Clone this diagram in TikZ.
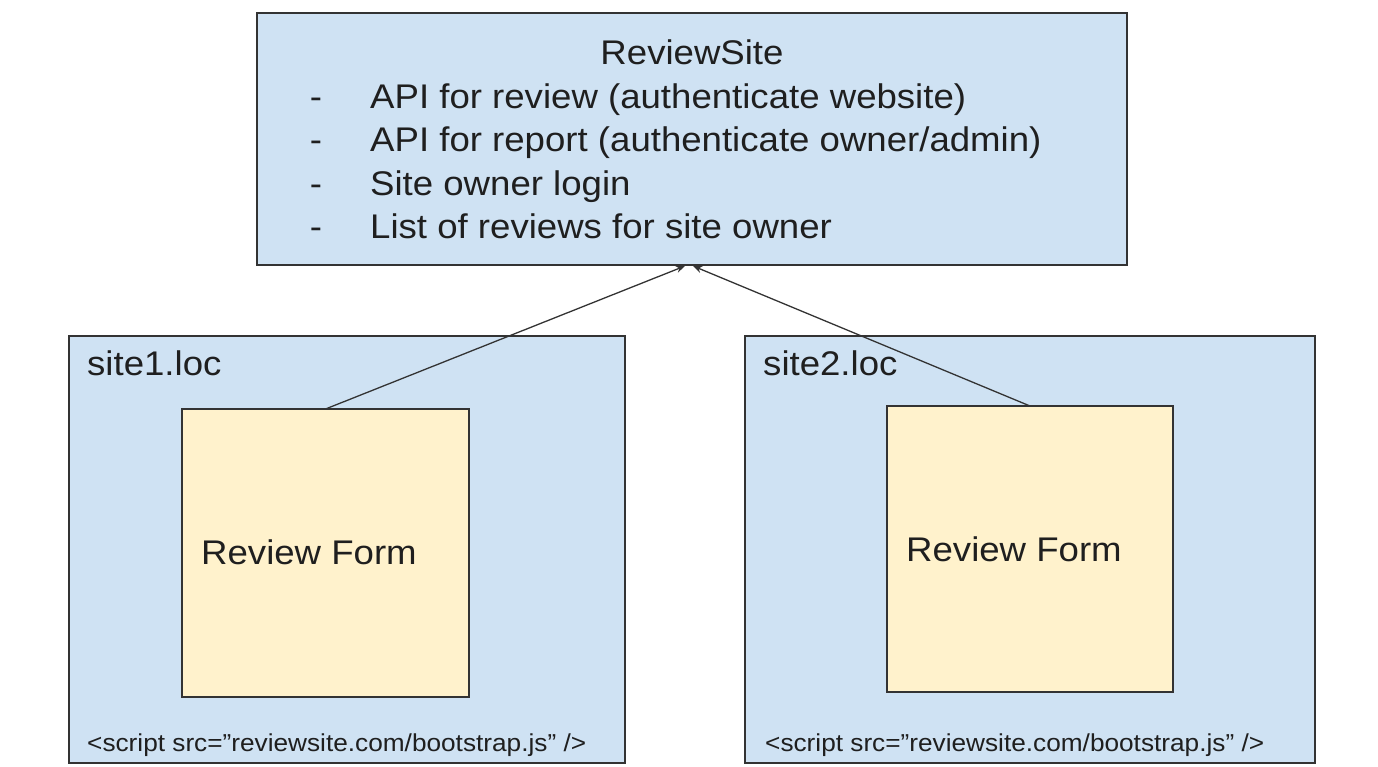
\documentclass[tikz,border=0pt]{standalone}
\usepackage{fontspec}
\setmainfont{Liberation Sans}[FakeStretch=1.07]
\usetikzlibrary{arrows.meta}
\definecolor{boxblue}{HTML}{CFE2F3}
\definecolor{boxyellow}{HTML}{FFF2CC}
\definecolor{edge}{HTML}{333333}
\begin{document}
\begin{tikzpicture}[x=1pt,y=-1pt,
  bluebox/.style={draw=edge,line width=1.4pt,fill=boxblue,inner sep=0pt,outer sep=0pt},
  formbox/.style={draw=edge,line width=1.4pt,fill=boxyellow,inner sep=0pt,outer sep=0pt},
  bigtxt/.style={inner sep=0pt,font=\fontsize{34.2}{40}\selectfont,text=black!88},
  smalltxt/.style={inner sep=0pt,font=\fontsize{24.5}{29}\selectfont,text=black!88},
  link/.style={draw=edge,line width=1.3pt,-{Stealth[length=9pt,width=7pt]}}]
\useasboundingbox (0,0) rectangle (1378,766);
\node[bluebox,minimum width=870pt,minimum height=252pt] (review) at (692,139) {};
\node[bluebox,minimum width=556pt,minimum height=427pt] (site1) at (347,549.5) {};
\node[bluebox,minimum width=570pt,minimum height=427pt] (site2) at (1030,549.5) {};
\node[formbox,minimum width=287pt,minimum height=288pt] (form1) at (325.5,553) {};
\node[formbox,minimum width=286pt,minimum height=286pt] (form2) at (1030,549) {};
% texts
\node[bigtxt,anchor=base] (title) at (692,64.3) {ReviewSite};
\node[bigtxt,anchor=base] (d1) at (316,108.3) {-};
\node[bigtxt,anchor=base] (d2) at (316,151.7) {-};
\node[bigtxt,anchor=base] (d3) at (316,195) {-};
\node[bigtxt,anchor=base] (d4) at (316,238.3) {-};
\node[bigtxt,anchor=base west] (l1) at (370,108.3) {API for review (authenticate website)};
\node[bigtxt,anchor=base west] (l2) at (370,151.7) {API for report (authenticate owner/admin)};
\node[bigtxt,anchor=base west] (l3) at (370,195) {Site owner login};
\node[bigtxt,anchor=base west] (l4) at (370,238.3) {List of reviews for site owner};
\node[bigtxt,anchor=base west] (s1) at (87,375) {site1.loc};
\node[bigtxt,anchor=base west] (s2) at (763,375) {site2.loc};
\node[bigtxt,anchor=base west] (f1) at (201,564.3) {Review Form};
\node[bigtxt,anchor=base west] (f2) at (906,561) {Review Form};
\node[smalltxt,anchor=base west] (c1) at (87,751.7) {<script src=”reviewsite.com/bootstrap.js” />};
\node[smalltxt,anchor=base west] (c2) at (765,751.7) {<script src=”reviewsite.com/bootstrap.js” />};
% connectors
\coordinate (t1) at (685,266);
\coordinate (t2) at (693,266);
\draw[link] (form1.north) -- (t1);
\draw[link] (form2.north) -- (t2);
\end{tikzpicture}
\end{document}
